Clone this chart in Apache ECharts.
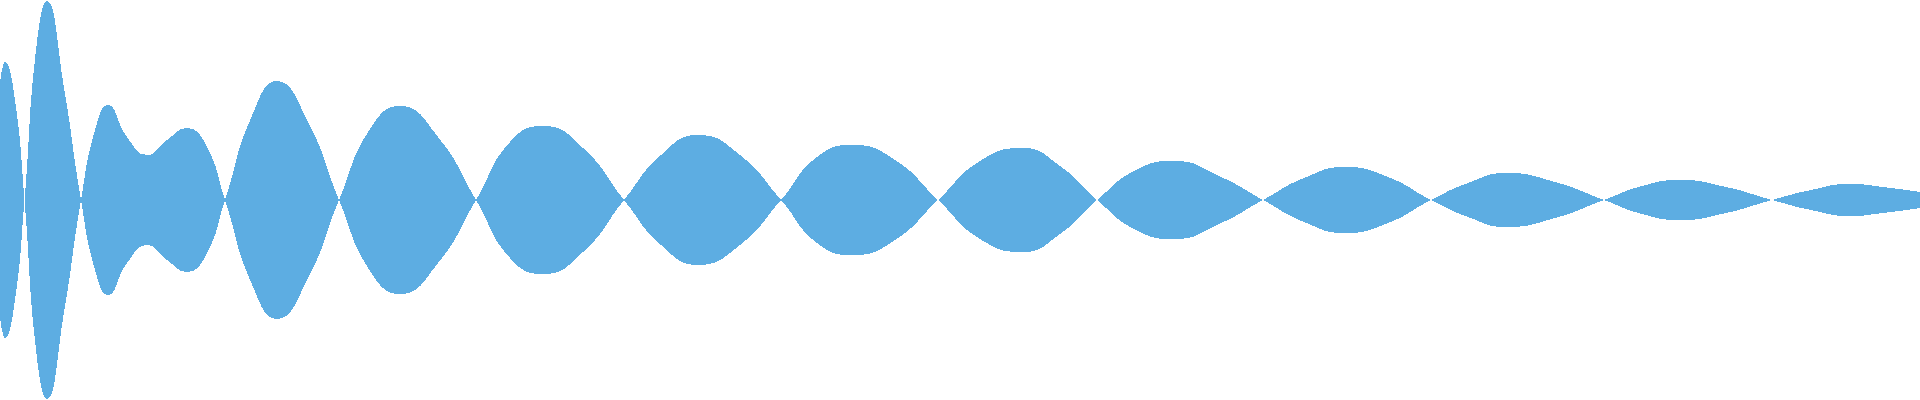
<!DOCTYPE html>
<html>
<head>
<meta charset="utf-8">
<script src="https://cdn.jsdelivr.net/npm/echarts@6/dist/echarts.min.js"></script>
<style>
html,body{margin:0;padding:0;background:#fff;}
#chart{width:1920px;height:400px;}
#chart path{shape-rendering:crispEdges;}
</style>
</head>
<body>
<div id="chart"></div>
<script>
// sample positions along the wave (x) and the signed envelope value at each
var positions = [
  0, 5, 15, 24.5,
  36, 47, 64, 81,
  95, 108, 127, 147, 167, 187, 206, 225,
  251, 277, 308, 339,
  370, 400, 438, 476,
  510, 543, 583, 624,
  661, 698, 740, 781,
  817, 853, 895, 938,
  980, 1023, 1060, 1097,
  1136, 1175, 1219, 1263,
  1304, 1345, 1388, 1431,
  1468, 1506, 1555, 1604,
  1642, 1680, 1726, 1772,
  1811, 1850, 1883, 1920];
var amplitude = [
  117, 138, 100, 0,
  -150, -199, -112, 0,
  70, 95, 63, 45, 60, 72, 55, 0,
  -82, -119, -78, 0,
  71, 94, 63, 0,
  -58, -74, -52, 0,
  45, 65, 45, 0,
  -43, -55, -40, 0,
  39, 52, 34, 0,
  -30, -39, -24, 0,
  22, 33, 23, 0,
  -17, -27, -18, 0,
  14, 20, 13, 0,
  -10, -16, -13, -8];

var upper = positions.map(function (x, i) { return [x, amplitude[i]]; });
var lower = positions.map(function (x, i) { return [x, -amplitude[i]]; });

var color = '#5dade2';
var chart = echarts.init(document.getElementById('chart'), null, {renderer: 'svg'});
chart.setOption({
  animation: false,
  grid: {left: 0, right: 0, top: 0, bottom: 0},
  xAxis: {type: 'value', min: 0, max: 1920, show: false},
  yAxis: {type: 'value', min: -200, max: 200, show: false},
  series: [
    {type: 'line', data: upper, smooth: true, symbol: 'none',
     lineStyle: {width: 0, color: color}, areaStyle: {color: color, opacity: 1}},
    {type: 'line', data: lower, smooth: true, symbol: 'none',
     lineStyle: {width: 0, color: color}, areaStyle: {color: color, opacity: 1}}
  ]
});
</script>
</body>
</html>
